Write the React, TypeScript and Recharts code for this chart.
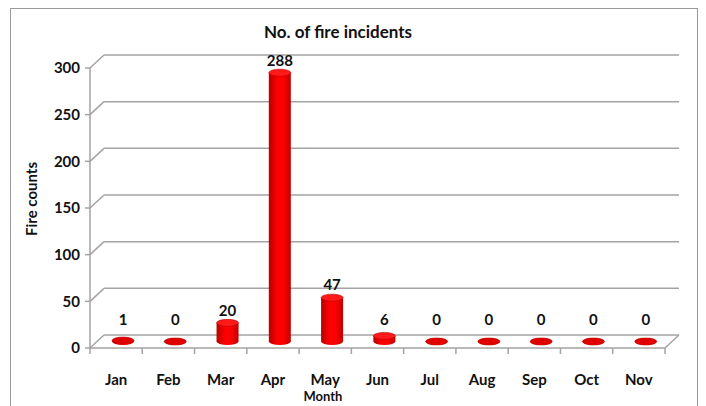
import { BarChart, Bar, XAxis, YAxis, CartesianGrid, LabelList } from "recharts"

const months = ["Jan", "Feb", "Mar", "Apr", "May", "Jun", "Jul", "Aug", "Sep", "Oct", "Nov"]
const fireCounts = [1, 0, 20, 288, 47, 6, 0, 0, 0, 0, 0]
const countTicks = [0, 50, 100, 150, 200, 250, 300]

const data = months.map((month, i) => ({ month, count: fireCounts[i] }))

// depth of the fake 3d box (back wall offset)
const DX = 14
const DY = -13
const GRID = "#a3a3a3"
const FONT = "Lato, 'Open Sans', sans-serif"
const TICK_GAP = 26 // tickSize + tickMargin of the month axis

function Cylinder(props: any) {
  const { x, y, width, height } = props
  const left = x + DX / 2
  const cx = left + width / 2
  const top = y + DY / 2
  const bottom = y + height + DY / 2
  const rx = width / 2
  const flat = bottom - top < 1
  return (
    <g>
      {!flat && <rect x={left} y={top} width={width} height={bottom - top} fill="url(#cyl)" />}
      <ellipse cx={cx} cy={bottom} rx={rx} ry={3.5} fill="url(#cyl)" />
      <ellipse
        cx={cx}
        cy={top}
        rx={rx}
        ry={3.5}
        fill={flat ? "#e00000" : "#ff1a1a"}
        stroke="#c00000"
        strokeWidth={0.6}
      />
    </g>
  )
}

function CountLabel(props: any) {
  const { x, y, width, height, value } = props
  const top = y + DY / 2
  const floor = y + height + DY / 2
  const ly = Math.min(top - 11, floor - 20)
  return (
    <text
      x={x + width / 2 + DX / 2}
      y={ly}
      textAnchor="middle"
      dominantBaseline="middle"
      fontFamily={FONT}
      fontWeight={700}
      fontSize={15}
      fill="#111"
    >
      {value}
    </text>
  )
}

function gridLine(p: any) {
  const { x1, x2, y1, index } = p
  const isFloor = Math.abs(y1 - (p.y + p.height)) < 1
  return (
    <g key={`grid-${index}`} stroke={GRID} strokeWidth={1.5}>
      <line x1={x1} y1={y1} x2={x1 + DX} y2={y1 + DY} />
      <line x1={x1 + DX} y1={y1 + DY} x2={x2 + DX} y2={y1 + DY} />
      {isFloor && <line x1={x2} y1={y1} x2={x2 + DX} y2={y1 + DY} />}
    </g>
  )
}

// month label plus a small tick at each slot edge
function MonthTick(props: any) {
  const { x, y, payload, index, visibleTicksCount } = props
  const half = payload.offset || 0
  const floor = y - TICK_GAP
  const last = index === visibleTicksCount - 1
  return (
    <g>
      <line x1={x - half} y1={floor} x2={x - half} y2={floor + 6} stroke={GRID} strokeWidth={1.5} />
      {last && <line x1={x + half} y1={floor} x2={x + half} y2={floor + 6} stroke={GRID} strokeWidth={1.5} />}
      <text
        x={x}
        y={y}
        dy="0.71em"
        textAnchor="middle"
        fontFamily={FONT}
        fontWeight={700}
        fontSize={15}
        fill="#111"
      >
        {payload.value}
      </text>
    </g>
  )
}

const tickStyle = { fontFamily: FONT, fontWeight: 700, fontSize: 15, fill: "#111" }

export default function App() {
  return (
    <div
      style={{
        position: "relative",
        width: 686,
        height: 400,
        marginLeft: 2,
        border: "1px solid #9a9a9a",
        background: "#fff",
      }}
    >
      <div
        style={{
          position: "absolute",
          top: 12,
          left: 227,
          width: 200,
          textAlign: "center",
          fontFamily: FONT,
          fontWeight: 700,
          fontSize: 17,
          color: "#111",
        }}
      >
        No. of fire incidents
      </div>
      <BarChart width={686} height={400} data={data} margin={{ top: 59, right: 32, left: 0, bottom: 21 }}>
        <defs>
          <linearGradient id="cyl" x1="0" y1="0" x2="1" y2="0">
            <stop offset="0%" stopColor="#b80000" />
            <stop offset="40%" stopColor="#ff0000" />
            <stop offset="65%" stopColor="#ff0000" />
            <stop offset="100%" stopColor="#c00000" />
          </linearGradient>
        </defs>
        <CartesianGrid vertical={false} horizontal={gridLine} />
        <XAxis
          dataKey="month"
          interval={0}
          height={40}
          axisLine={{ stroke: GRID, strokeWidth: 1.5 }}
          tickLine={false}
          tickSize={6}
          tickMargin={20}
          tick={<MonthTick />}
          label={{
            content: (lp: any) => {
              const vb = lp.viewBox
              return (
                <text
                  x={vb.x + vb.width * 0.405}
                  y={vb.y + vb.height + 10}
                  textAnchor="middle"
                  dominantBaseline="middle"
                  fontFamily={FONT}
                  fontWeight={700}
                  fontSize={13}
                  fill="#111"
                >
                  Month
                </text>
              )
            },
          }}
        />
        <YAxis
          domain={[0, 300]}
          ticks={countTicks}
          interval={0}
          width={79}
          tick={tickStyle}
          tickSize={5}
          tickMargin={5}
          axisLine={{ stroke: GRID, strokeWidth: 1.5 }}
          tickLine={{ stroke: GRID, strokeWidth: 1.5 }}
          label={{
            content: (lp: any) => {
              const vb = lp.viewBox
              const cx = vb.x + 22
              const cy = vb.y + vb.height / 2 - 9
              return (
                <text
                  x={cx}
                  y={cy}
                  transform={`rotate(-90 ${cx} ${cy})`}
                  textAnchor="middle"
                  dominantBaseline="middle"
                  fontFamily={FONT}
                  fontWeight={700}
                  fontSize={15}
                  fill="#111"
                >
                  Fire counts
                </text>
              )
            },
          }}
        />
        <Bar dataKey="count" barSize={22} shape={<Cylinder />} isAnimationActive={false}>
          <LabelList dataKey="count" content={<CountLabel />} />
        </Bar>
      </BarChart>
    </div>
  )
}
